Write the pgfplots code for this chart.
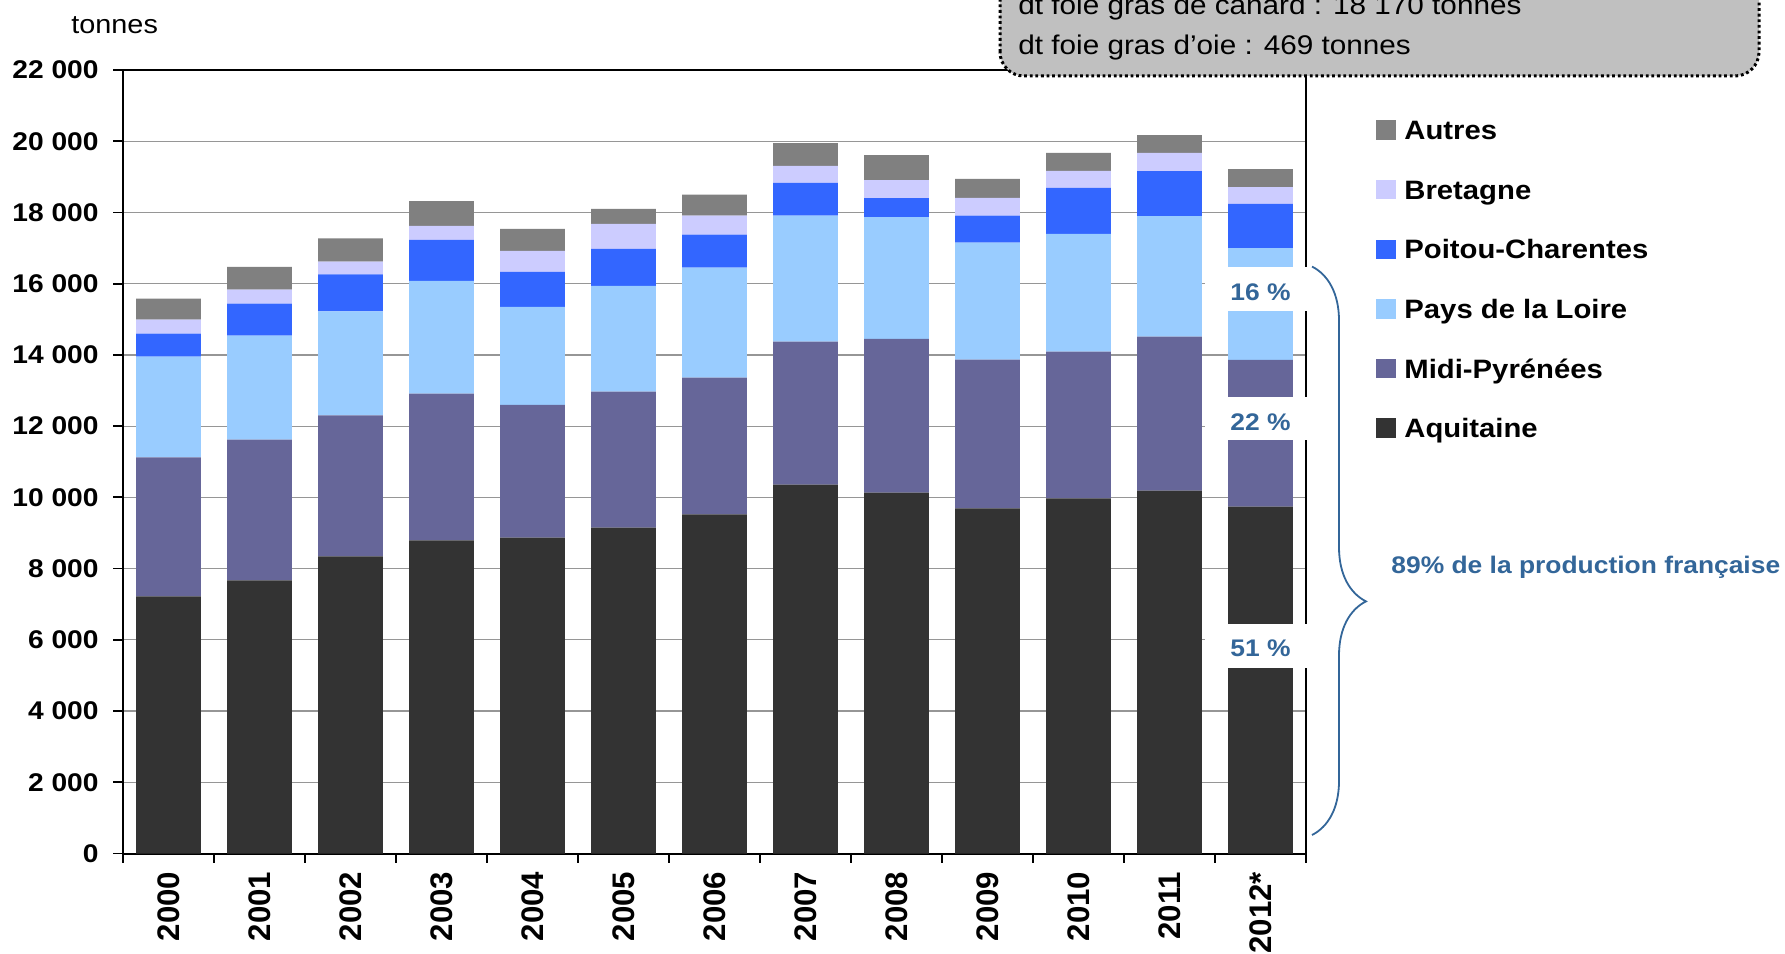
\documentclass[border=0pt]{standalone}
\usepackage{fontspec}
\setmainfont[FakeStretch=1.1]{Liberation Sans}
\newfontfamily\yearfont{Liberation Sans}
\usepackage{pgfplots}
\pgfplotsset{compat=1.18}
\usepackage{pgfplotstable}
\usetikzlibrary{decorations.pathreplacing}

\definecolor{c_aq}{RGB}{51,51,51}
\definecolor{c_mp}{RGB}{102,102,153}
\definecolor{c_pl}{RGB}{153,204,255}
\definecolor{c_pc}{RGB}{51,102,255}
\definecolor{c_br}{RGB}{204,204,255}
\definecolor{c_au}{RGB}{128,128,128}
\definecolor{c_txt}{RGB}{51,102,153}
\definecolor{c_grid}{RGB}{150,150,150}
\definecolor{c_box}{RGB}{192,192,192}

\newcommand\fs[1]{\fontsize{#1}{#1}\selectfont}

% tonnes per region, stacked from Aquitaine upwards
\pgfplotstableread{
x   aq     mp    pl    pc    br   au
0   7220   3900  2830  650   390  590
1   7670   3950  2920  900   390  640
2   8340   3960  2920  1040  360  650
3   8790   4120  3170  1150  390  700
4   8870   3730  2750  980   590  620
5   9150   3820  2970  1040  700  420
6   9520   3840  3090  930   530  590
7   10360  4010  3540  920   480  640
8   10130  4320  3420  530   510  700
9   9690   4180  3280  760   500  530
10  9970   4120  3310  1290  480  500
11  10190  4320  3390  1260  510  500
12  9740   4120  3140  1240  470  510
}\foiegras

\pgfplotsset{sq/.style={legend image code/.code={\fill[##1] (0pt,-4.85pt) rectangle (10pt,4.85pt);}}}

\begin{document}
\begin{tikzpicture}
\begin{axis}[
    name=ax,
    scale only axis,
    width=591.5pt, height=391.75pt,
    ybar stacked, bar width=0.71,
    xmin=-0.5, xmax=12.5,
    ymin=0, ymax=22000,
    xtick={0,...,12},
    xticklabels={2000,2001,2002,2003,2004,2005,2006,2007,2008,2009,2010,2011,2012*},
    major x tick style={draw=none},
    minor xtick={-0.5,0.5,...,12.5},
    ytick={0,2000,...,22000},
    scaled y ticks=false,
    xtick pos=bottom, ytick pos=left,
    tick align=outside,
    major tick length=5pt, minor tick length=4.5pt,
    tick style={black, line width=0.9pt},
    axis line style={black, line width=1pt},
    ymajorgrids,
    major grid style={c_grid, line width=0.6pt},
    /pgf/number format/assume math mode=true,
    /pgf/number format/1000 sep={\ },
    yticklabel style={font=\fs{12.8}\bfseries, inner sep=0pt, xshift=-7pt},
    xticklabel style={font=\yearfont\fs{15.6}\bfseries, rotate=90, anchor=east, inner sep=0pt, xshift=-4pt},
    clip=false,
    reverse legend,
    legend cell align=left,
    legend style={at={(1.0592,0.9371)}, anchor=north west, draw=none, fill=none,
        inner sep=0pt, row sep=19.3pt, column sep=4pt, font=\fs{13.3}\bfseries,
        nodes={inner sep=0pt, text height=10pt, text depth=0.5pt}},
    after end axis/.code={
        % share labels on the 2012 bar
        \fill[white] (axis cs:11.39,15234) rectangle (axis cs:12.58,16480);
        \fill[white] (axis cs:11.39,11605) rectangle (axis cs:12.58,12820);
        \fill[white] (axis cs:11.39,5202) rectangle (axis cs:12.58,6438);
        \node[font=\fs{12}\bfseries, text=c_txt] at (axis cs:12,15756) {16 \%};
        \node[font=\fs{12}\bfseries, text=c_txt] at (axis cs:12,12107) {22 \%};
        \node[font=\fs{12}\bfseries, text=c_txt] at (axis cs:12,5753) {51 \%};
        \draw[c_txt, line width=0.9pt, decorate, decoration={brace, amplitude=27pt, aspect=0.589}]
            ([xshift=3pt]axis cs:12.5,16480) -- ([xshift=3pt]axis cs:12.5,520);
        \node[anchor=west, inner sep=0pt, font=\fs{12}\bfseries, text=c_txt]
            at ([xshift=42.5pt]axis cs:12.5,8048) {89\% de la production française};
    },
]
\addplot[fill=c_aq, draw=none, sq] table[x=x, y=aq] {\foiegras};
\addlegendentry{Aquitaine}
\addplot[fill=c_mp, draw=none, sq] table[x=x, y=mp] {\foiegras};
\addlegendentry{Midi-Pyrénées}
\addplot[fill=c_pl, draw=none, sq] table[x=x, y=pl] {\foiegras};
\addlegendentry{Pays de la Loire}
\addplot[fill=c_pc, draw=none, sq] table[x=x, y=pc] {\foiegras};
\addlegendentry{Poitou-Charentes}
\addplot[fill=c_br, draw=none, sq] table[x=x, y=br] {\foiegras};
\addlegendentry{Bretagne}
\addplot[fill=c_au, draw=none, sq] table[x=x, y=au] {\foiegras};
\addlegendentry{Autres}
\end{axis}

\node[anchor=base west, inner sep=0pt, font=\fs{13.1}] at ([xshift=-26pt, yshift=18.35pt]ax.north west) {tonnes};

\draw[fill=c_box, line width=1.5pt, dash pattern=on 1.4pt off 1.4pt, rounded corners=12pt]
    ([xshift=438.5pt, yshift=-3pt]ax.north west) rectangle ([xshift=226.5pt, yshift=65pt]ax.north east);
\node[anchor=base west, inner sep=0pt, font=\fs{13.5}] at ([xshift=447.5pt, yshift=27.5pt]ax.north west) {dt foie gras de canard : 18 170 tonnes};
\node[anchor=base west, inner sep=0pt, font=\fs{13.5}] at ([xshift=447.5pt, yshift=7.85pt]ax.north west) {dt foie gras d’oie : 469 tonnes};

\pgfresetboundingbox
\path ([xshift=-61.5pt, yshift=-49.75pt]ax.south west) rectangle ([xshift=239.5pt, yshift=35pt]ax.north east);
\end{tikzpicture}
\end{document}
